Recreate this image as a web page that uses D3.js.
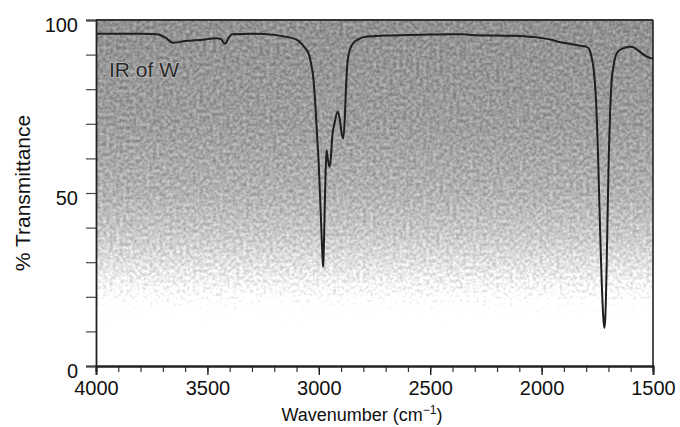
<!DOCTYPE html>
<html>
<head>
<meta charset="utf-8">
<script src="https://cdn.jsdelivr.net/npm/d3@7"></script>
<style>
  html, body { margin: 0; padding: 0; background: #fff; }
  svg { display: block; }
  text { font-family: "Liberation Sans", Arial, Helvetica, sans-serif; fill: #111; }
</style>
</head>
<body>
<svg id="chart" width="680" height="427"></svg>
<script>
// IR spectrum of compound W: wavenumber (cm-1) vs % transmittance
const wavenumbers = [
  4000, 3900, 3800, 3726, 3690, 3655, 3600, 3520, 3460, 3440, 3421, 3405, 3390,
  3300, 3200, 3150, 3100, 3080, 3060, 3045, 3035, 3025, 3015, 3008, 3000, 2993,
  2987, 2983, 2980, 2977, 2973, 2969, 2965, 2960, 2952, 2946, 2940, 2930, 2915,
  2905, 2897, 2890, 2883, 2877, 2870, 2860, 2845, 2820, 2785, 2700, 2600, 2500,
  2400, 2350, 2300, 2200, 2100, 2040, 2000, 1950, 1930, 1880, 1830, 1800, 1785,
  1775, 1765, 1755, 1748, 1742, 1736, 1729, 1722, 1718, 1714, 1709, 1704, 1698,
  1692, 1686, 1678, 1668, 1655, 1635, 1610, 1590, 1575, 1558, 1530, 1505, 1500
];
const transmittance = [
  96.0, 96.0, 96.0, 95.9, 95.0, 93.4, 93.9, 94.3, 94.7, 94.5, 93.1, 94.8, 95.9,
  96.0, 95.7, 95.2, 94.3, 93.3, 91.8, 90.2, 87.5, 83.5, 75.0, 67.0, 58.0, 47.0,
  37.0, 31.0, 28.6, 35.0, 47.0, 57.0, 62.3, 60.0, 57.6, 60.0, 66.0, 70.0, 73.5,
  71.0, 67.0, 65.8, 72.0, 82.0, 88.4, 91.5, 93.3, 94.5, 95.2, 95.5, 95.7, 95.8,
  95.9, 95.9, 95.6, 95.5, 95.4, 95.1, 94.8, 94.2, 93.8, 93.2, 92.6, 92.3, 91.5,
  89.0, 85.0, 76.0, 64.0, 50.0, 36.0, 22.0, 13.0, 11.0, 14.0, 26.0, 43.0, 62.0,
  74.0, 82.0, 86.5, 89.6, 91.0, 91.8, 92.3, 92.2, 91.6, 90.8, 89.5, 88.9, 88.8
];
const xLabelTicks = [4000, 3500, 3000, 2500, 2000, 1500];
const yLabelTicks = [0, 50, 100];
const spectrumLabel = "IR of W";

const svg = d3.select("#chart");
const margin = { left: 96, right: 27, top: 20, bottom: 61 };
const W = 680, H = 427;
const x = d3.scaleLinear().domain([4000, 1500]).range([margin.left, W - margin.right]);
const y = d3.scaleLinear().domain([0, 100]).range([H - margin.bottom, margin.top]);

const defs = svg.append("defs");

// shaded background: grey at the top fading to white
const grad = defs.append("linearGradient")
  .attr("id", "bg").attr("x1", 0).attr("y1", 0).attr("x2", 0).attr("y2", 1);
[[0, "#7e7e7e"], [0.3, "#898989"], [0.5, "#9b9b9b"], [0.62, "#afafaf"],
 [0.72, "#c8c8c8"], [0.79, "#dcdcdc"], [0.84, "#eeeeee"], [0.9, "#ffffff"], [1, "#ffffff"]]
  .forEach(([o, c]) => grad.append("stop").attr("offset", o).attr("stop-color", c));

// grain: noise added to the shading, light areas clip to white
const grain = defs.append("filter").attr("id", "grain")
  .attr("x", 0).attr("y", 0).attr("width", 1).attr("height", 1)
  .attr("color-interpolation-filters", "sRGB");
grain.append("feTurbulence").attr("type", "fractalNoise")
  .attr("baseFrequency", 0.3).attr("numOctaves", 2).attr("seed", 11).attr("result", "n");
grain.append("feColorMatrix").attr("in", "n").attr("type", "matrix")
  .attr("values", "1 0 0 0 0  1 0 0 0 0  1 0 0 0 0  0 0 0 0 1").attr("result", "g");
grain.append("feComposite").attr("in", "SourceGraphic").attr("in2", "g")
  .attr("operator", "arithmetic")
  .attr("k1", 0).attr("k2", 1.15).attr("k3", 0.38).attr("k4", -0.19);

const plotW = x(1500) - x(4000), plotH = y(0) - y(100);
svg.append("rect").attr("x", x(4000)).attr("y", y(100))
  .attr("width", plotW).attr("height", plotH)
  .attr("fill", "url(#bg)").attr("filter", "url(#grain)");

// frame: top and right edges
svg.append("line").attr("x1", x(4000)).attr("x2", x(1500)).attr("y1", y(100)).attr("y2", y(100))
  .attr("stroke", "#333").attr("stroke-width", 2);
svg.append("line").attr("x1", x(1500)).attr("x2", x(1500)).attr("y1", y(100)).attr("y2", y(0))
  .attr("stroke", "#222").attr("stroke-width", 1.6);

// x axis: minor ticks every 100, labelled major ticks every 500
const xAxisG = svg.append("g").attr("transform", `translate(0,${y(0)})`);
xAxisG.call(d3.axisBottom(x).tickValues(d3.range(4000, 1499, -100)).tickSize(6).tickFormat(""));
xAxisG.selectAll(".tick line").attr("stroke", "#333").attr("stroke-width", 1.2);
const xMajor = svg.append("g").attr("transform", `translate(0,${y(0)})`)
  .call(d3.axisBottom(x).tickValues(xLabelTicks).tickSize(9).tickPadding(6).tickFormat(d3.format("d")));
xMajor.selectAll(".tick line").attr("stroke", "#222").attr("stroke-width", 1.4);
xMajor.selectAll(".tick text").attr("font-size", 20).attr("fill", "#111")
  .attr("font-family", "\"Liberation Sans\", Arial, sans-serif");
[xAxisG, xMajor].forEach(g => g.select(".domain").attr("stroke", "#222").attr("stroke-width", 1.8));

// y axis: ticks every 10, labels at 0, 50, 100
const yAxisG = svg.append("g").attr("transform", `translate(${x(4000)},0)`)
  .call(d3.axisLeft(y).tickValues(d3.range(0, 101, 10)).tickSize(10)
    .tickPadding(8).tickFormat(d => yLabelTicks.includes(d) ? d : ""));
yAxisG.select(".domain").attr("stroke", "#222").attr("stroke-width", 1.8);
yAxisG.selectAll(".tick line").attr("stroke", "#444").attr("stroke-width", 1.2);
yAxisG.selectAll(".tick text").attr("font-size", 20).attr("fill", "#111").attr("dy", "0.55em")
  .attr("font-family", "\"Liberation Sans\", Arial, sans-serif");

// spectrum trace
const pts = wavenumbers.map((w, i) => [w, transmittance[i]]);
const line = d3.line().x(d => x(d[0])).y(d => y(d[1])).curve(d3.curveMonotoneX);
svg.append("path").datum(pts).attr("d", line)
  .attr("fill", "none").attr("stroke", "#1e1e1e").attr("stroke-width", 2)
  .attr("stroke-linejoin", "round");

// in-plot caption with a light outline
svg.append("text").attr("x", 109).attr("y", 77).attr("font-size", 21)
  .style("fill", "#2a2a2a").style("stroke", "#b4b4b4").style("stroke-width", 2)
  .style("paint-order", "stroke").text(spectrumLabel);

// axis titles
svg.append("text").attr("transform", "translate(30,193) rotate(-90)")
  .attr("text-anchor", "middle").attr("font-size", 21).text("% Transmittance");
const xt = svg.append("text").attr("x", 362).attr("y", 421)
  .attr("text-anchor", "middle").attr("font-size", 18);
xt.append("tspan").text("Wavenumber (cm");
xt.append("tspan").attr("dy", -7).attr("font-size", 12).text("−1");
xt.append("tspan").attr("dy", 7).text(")");
</script>
</body>
</html>
